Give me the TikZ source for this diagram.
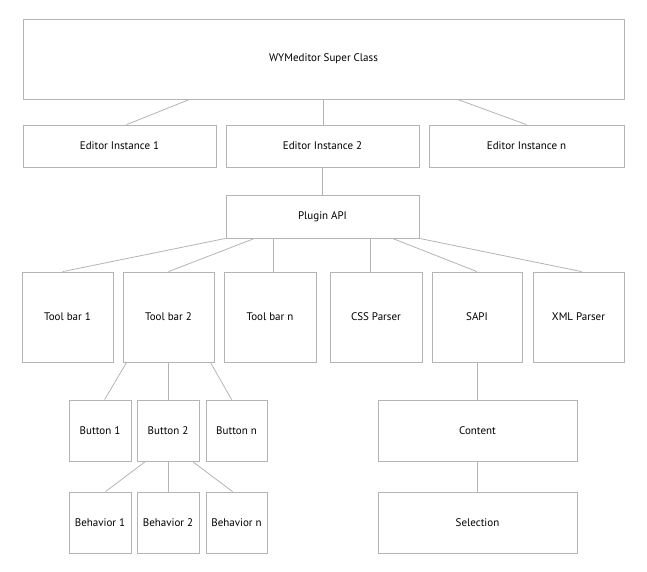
\documentclass[tikz,border=0pt]{standalone}
\usepackage{fontspec}
\setmainfont{PT Sans}
\usetikzlibrary{calc}
\definecolor{linegray}{HTML}{B4B4B4}
\tikzset{
  box/.style={draw=linegray, line width=0.8pt, rectangle, inner sep=0pt, align=center, font=\fontsize{11}{13}\selectfont, text=black},
  link/.style={draw=linegray, line width=0.8pt}
}
\begin{document}
\begin{tikzpicture}[x=1pt,y=-1pt]
\useasboundingbox (0,0) rectangle (647,571);
% level 0
\node[box, minimum width=601pt, minimum height=80pt] (sc) at (323.5,59) {WYMeditor Super Class};
% level 1
\node[box, minimum width=193pt, minimum height=42pt] (ei1) at (119.5,146) {Editor Instance 1};
\node[box, minimum width=193pt, minimum height=42pt] (ei2) at (322.5,146) {Editor Instance 2};
\node[box, minimum width=195pt, minimum height=42pt] (ein) at (526.5,146) {Editor Instance n};
% level 2
\node[box, minimum width=193pt, minimum height=43pt] (plugin) at (322.5,216.5) {Plugin API};
% level 3
\node[box, minimum width=91pt, minimum height=90pt] (tb1) at (67.5,317) {Tool bar 1};
\node[box, minimum width=91pt, minimum height=90pt] (tb2) at (168.5,317) {Tool bar 2};
\node[box, minimum width=92pt, minimum height=90pt] (tbn) at (270,317) {Tool bar n};
\node[box, minimum width=92pt, minimum height=90pt] (css) at (376,317) {CSS Parser};
\node[box, minimum width=90pt, minimum height=90pt] (sapi) at (477,317) {SAPI};
\node[box, minimum width=91pt, minimum height=90pt] (xml) at (578.5,317) {XML Parser};
% level 4
\node[box, minimum width=62pt, minimum height=61pt] (b1) at (100,430.5) {Button 1};
\node[box, minimum width=62pt, minimum height=61pt] (b2) at (168,430.5) {Button 2};
\node[box, minimum width=61pt, minimum height=61pt] (bn) at (236.5,430.5) {Button n};
\node[box, minimum width=199pt, minimum height=61pt] (content) at (477.5,430.5) {Content};
% level 5
\node[box, minimum width=62pt, minimum height=61pt] (bh1) at (100,522.5) {Behavior 1};
\node[box, minimum width=62pt, minimum height=61pt] (bh2) at (168,522.5) {Behavior 2};
\node[box, minimum width=61pt, minimum height=61pt] (bhn) at (236.5,522.5) {Behavior n};
\node[box, minimum width=199pt, minimum height=61pt] (sel) at (477.5,522.5) {Selection};
% connectors
\draw[link] ($(sc.south west)+(167,0)$) -- ($(ei1.north west)+(104,0)$);
\draw[link] (sc.south) -- (sc.south |- ei2.north);
\draw[link] ($(sc.south east)+(-167,0)$) -- (ein.north);
\draw[link] (ei2.south) -- (plugin.north);
\draw[link] (plugin.south west) -- ($(tb1.north west)+(41,0)$);
\draw[link] ($(plugin.south west)+(29,0)$) -- (tb2.north);
\draw[link] ($(plugin.south west)+(48,0)$) -- ($(tbn.north west)+(50,0)$);
\draw[link] ($(plugin.south west)+(145,0)$) -- ($(css.north west)+(41,0)$);
\draw[link] ($(plugin.south east)+(-27,0)$) -- (sapi.north);
\draw[link] (plugin.south east) -- ($(xml.north west)+(49,0)$);
\draw[link] ($(tb2.south west)+(4,0)$) -- ($(b1.north west)+(36,0)$);
\draw[link] (tb2.south) -- (tb2.south |- b2.north);
\draw[link] ($(tb2.south east)+(-4,0)$) -- ($(bn.north west)+(26,0)$);
\draw[link] ($(b2.south west)+(9,0)$) -- ($(bh1.north west)+(37,0)$);
\draw[link] (b2.south) -- (bh2.north);
\draw[link] ($(b2.south east)+(-7,0)$) -- ($(bhn.north west)+(27,0)$);
\draw[link] (sapi.south) -- (sapi.south |- content.north);
\draw[link] (content.south) -- (sel.north);
\end{tikzpicture}
\end{document}
